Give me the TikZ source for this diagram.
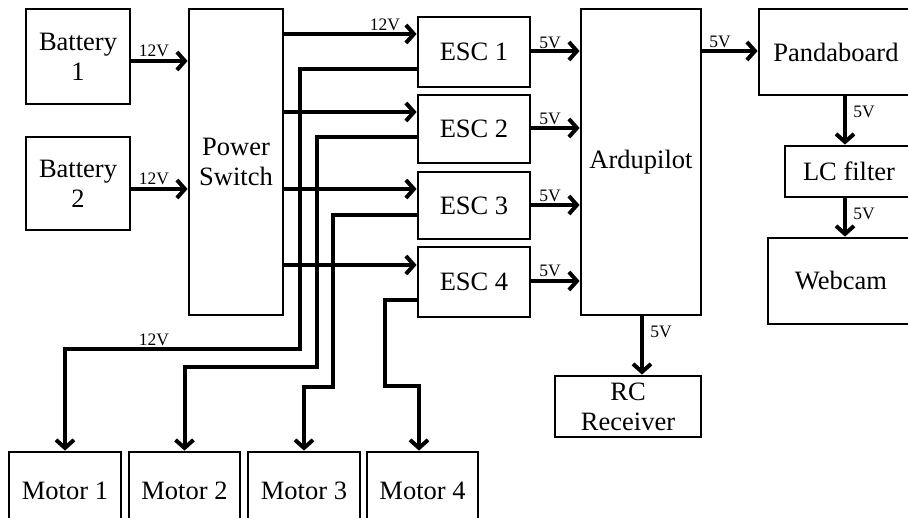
\documentclass[tikz,border=0pt]{standalone}
\usepackage{fontspec}
\setmainfont{Liberation Serif}
\usetikzlibrary{arrows.meta,calc}
\begin{document}
\begin{tikzpicture}[x=1pt,y=-1pt,
 box/.style={draw,line width=2.8pt,inner sep=0pt,align=center,font=\fontsize{26.5}{30}\selectfont},
 arr/.style={line width=4pt,-{Straight Barb[length=8pt,width=18pt]}},
 lab/.style={font=\fontsize{17.5}{17.5}\selectfont,inner sep=0pt}]
\useasboundingbox (0,0) rectangle (908,518);
\clip (0,0) rectangle (908,518);
% boxes
\node[box,minimum width=104pt,minimum height=95pt] (bat1) at (78,56.5) {Battery\\1};
\node[box,minimum width=104pt,minimum height=93pt] (bat2) at (78,183.5) {Battery\\2};
\node[box,minimum width=94pt,minimum height=306pt] (ps) at (236,162) {Power\\Switch};
\node[box,minimum width=112pt,minimum height=70pt] (esc1) at (474,52) {ESC 1};
\node[box,minimum width=112pt,minimum height=68pt] (esc2) at (474,129) {ESC 2};
\node[box,minimum width=112pt,minimum height=67pt] (esc3) at (474,205.5) {ESC 3};
\node[box,minimum width=112pt,minimum height=70pt] (esc4) at (474,282) {ESC 4};
\node[box,minimum width=120pt,minimum height=306pt] (ardu) at (641,162) {Ardupilot};
\node[box,minimum width=154pt,minimum height=86pt] (panda) at (836,52) {Pandaboard};
\node[box,minimum width=128pt,minimum height=51pt] (lc) at (849,171.5) {LC filter};
\node[box,minimum width=146pt,minimum height=86pt] (web) at (841,281) {Webcam};
\node[box,minimum width=146pt,minimum height=61pt] (rc) at (628,406.5) {RC\\Receiver};
\node[box,minimum width=112pt,minimum height=78pt] (m1) at (65,491) {Motor 1};
\node[box,minimum width=111pt,minimum height=78pt] (m2) at (184.5,491) {Motor 2};
\node[box,minimum width=112pt,minimum height=78pt] (m3) at (304,491) {Motor 3};
\node[box,minimum width=111pt,minimum height=78pt] (m4) at (422.5,491) {Motor 4};
% battery to power switch
\draw[arr] (bat1.east |- 0,61) -- (ps.west |- 0,61);
\draw[arr] (bat2.east |- 0,189) -- (ps.west |- 0,189);
% power switch to ESCs
\draw[arr] (ps.east |- 0,34) -- (esc1.west |- 0,34);
\draw[arr] (ps.east |- 0,112) -- (esc2.west |- 0,112);
\draw[arr] (ps.east |- 0,189) -- (esc3.west |- 0,189);
\draw[arr] (ps.east |- 0,265) -- (esc4.west |- 0,265);
% ESCs to motors
\draw[arr] (esc1.west |- 0,69) -- (300,69) -- (300,349) -- (65,349) -- (m1.north);
\draw[arr] (esc2.west |- 0,137) -- (317,137) -- (317,367) -- (184.5,367) -- (m2.north);
\draw[arr] (esc3.west |- 0,215) -- (333,215) -- (333,387) -- (304,387) -- (m3.north);
\draw[arr] (esc4.west |- 0,300) -- (385,300) -- (385,386) -- (419,386) -- (m4.north -| 419,0);
% ESCs to Ardupilot
\draw[arr] (esc1.east |- 0,51) -- (ardu.west |- 0,51);
\draw[arr] (esc2.east |- 0,128) -- (ardu.west |- 0,128);
\draw[arr] (esc3.east |- 0,205) -- (ardu.west |- 0,205);
\draw[arr] (esc4.east |- 0,281) -- (ardu.west |- 0,281);
% Ardupilot outputs
\draw[arr] (ardu.east |- 0,51) -- (panda.west |- 0,51);
\draw[arr] (ardu.south -| 642,0) -- (rc.north -| 642,0);
\draw[arr] (panda.south -| 845,0) -- (lc.north -| 845,0);
\draw[arr] (lc.south -| 845,0) -- (web.north -| 845,0);
% labels
\node[lab] (l1) at (154,51) {12V};
\node[lab] (l2) at (154,179) {12V};
\node[lab] (l3) at (385,25) {12V};
\node[lab] (l4) at (154,340) {12V};
\node[lab] (l5) at (550,43) {5V};
\node[lab] (l6) at (550,119) {5V};
\node[lab] (l7) at (550,196) {5V};
\node[lab] (l8) at (550,271) {5V};
\node[lab] (l9) at (720,42) {5V};
\node[lab] (l10) at (661,332) {5V};
\node[lab] (l11) at (864,112) {5V};
\node[lab] (l12) at (864,214) {5V};
\end{tikzpicture}
\end{document}
